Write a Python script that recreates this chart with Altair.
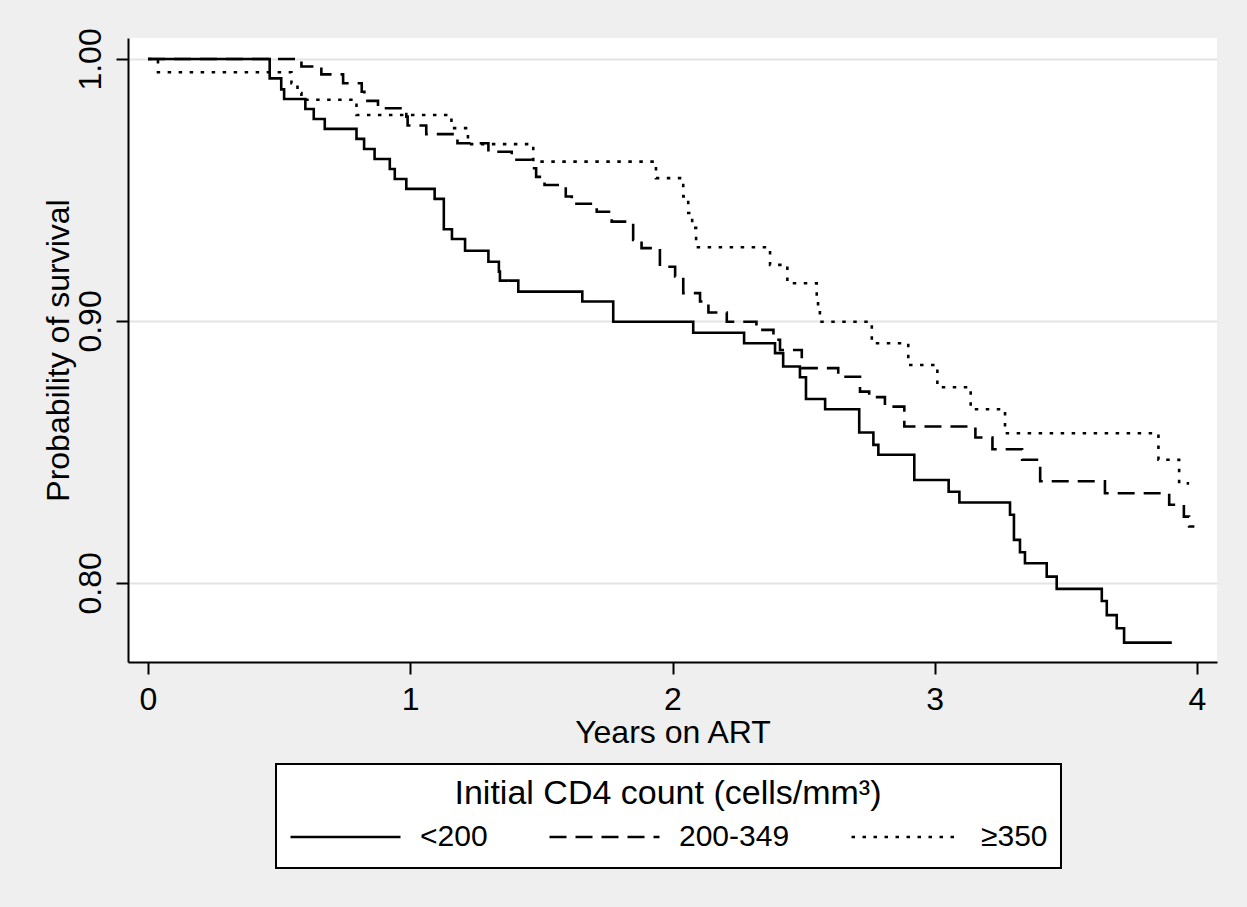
import altair as alt
import pandas as pd

groups = ["<200", "200-349", "≥350"]

# <200 (solid)
t_lt200 = [0, 0.464, 0.508, 0.519, 0.600, 0.632, 0.674, 0.795, 0.824, 0.864,
           0.922, 0.941, 0.985, 1.093, 1.128, 1.159, 1.209, 1.298, 1.338, 1.342,
           1.412, 1.656, 1.774, 2.079, 2.273, 2.391, 2.422, 2.486, 2.509, 2.582,
           2.712, 2.766, 2.785, 2.922, 3.053, 3.094, 3.287, 3.302, 3.325, 3.344,
           3.427, 3.465, 3.637, 3.656, 3.694, 3.722, 3.904]
s_lt200 = [1.0, 0.9926, 0.9884, 0.9847, 0.9809, 0.9771, 0.9733, 0.9695, 0.9656, 0.9618,
           0.958, 0.9542, 0.9504, 0.9466, 0.935, 0.9313, 0.9268, 0.9226, 0.9188, 0.9154,
           0.9112, 0.9074, 0.8997, 0.8955, 0.8915, 0.8877, 0.8826, 0.8785, 0.8702, 0.8663,
           0.8574, 0.8527, 0.8489, 0.8393, 0.8348, 0.8307, 0.826, 0.8164, 0.8117, 0.8075,
           0.8024, 0.7977, 0.7931, 0.7877, 0.7827, 0.7772, 0.7772]

# 200-349 (dashed)
t_mid = [0, 0.585, 0.661, 0.744, 0.815, 0.825, 0.877, 0.985, 0.99, 1.061,
         1.18, 1.298, 1.387, 1.463, 1.48, 1.512, 1.593, 1.616, 1.711, 1.768,
         1.85, 1.882, 1.952, 2.01, 2.041, 2.105, 2.137, 2.207, 2.32, 2.385,
         2.41, 2.493, 2.632, 2.715, 2.75, 2.81, 2.884, 3.155, 3.22, 3.333,
         3.402, 3.649, 3.894, 3.95, 3.97, 3.99]
s_mid = [1.0, 0.9971, 0.9941, 0.9907, 0.9875, 0.984, 0.9812, 0.978, 0.9746, 0.9713,
         0.9678, 0.9646, 0.9615, 0.9583, 0.955, 0.9519, 0.9475, 0.9447, 0.9417, 0.9379,
         0.9309, 0.9278, 0.9207, 0.917, 0.9106, 0.9074, 0.9032, 0.8997, 0.8966, 0.8928,
         0.8889, 0.882, 0.8787, 0.873, 0.8709, 0.8673, 0.8597, 0.8555, 0.851, 0.847,
         0.8388, 0.8342, 0.8298, 0.8253, 0.8215, 0.8215]

# >=350 (dotted)
t_hi = [0, 0.038, 0.547, 0.57, 0.585, 0.795, 1.157, 1.22, 1.469, 1.937,
        2.041, 2.06, 2.075, 2.09, 2.372, 2.438, 2.55, 2.555, 2.562, 2.76,
        2.899, 3.01, 3.137, 3.268, 3.853, 3.932, 3.97]
s_hi = [1.0, 0.9949, 0.9907, 0.987, 0.9844, 0.9786, 0.9736, 0.9675, 0.9608, 0.9545,
        0.9475, 0.9412, 0.9355, 0.9281, 0.9214, 0.9144, 0.909, 0.904, 0.8997, 0.8915,
        0.8832, 0.8747, 0.8663, 0.8571, 0.847, 0.838, 0.838]

x_ticks = [0, 1, 2, 3, 4]
y_ticks = [0.8, 0.9, 1.0]

rows = []
for g, ts, ss in [(groups[0], t_lt200, s_lt200), (groups[1], t_mid, s_mid), (groups[2], t_hi, s_hi)]:
    for i, (t, s) in enumerate(zip(ts, ss)):
        rows.append({"group": g, "t": t, "s": s, "i": i})
df = pd.DataFrame(rows)

FONT = "Liberation Sans"

chart = alt.Chart(df).mark_line(
    interpolate="step-after", strokeWidth=2.6, color="black"
).encode(
    x=alt.X("t:Q",
            scale=alt.Scale(domain=[-0.0763, 4.0763], nice=False, zero=False),
            axis=alt.Axis(values=x_ticks, title="Years on ART", grid=False,
                          tickSize=12, tickWidth=2, tickColor="black",
                          domainColor="black", domainWidth=2,
                          labelFont=FONT, labelFontSize=32, labelColor="black",
                          labelBaseline="alphabetic", labelPadding=35,
                          titleFont=FONT, titleFontSize=32, titleFontWeight="normal",
                          titleColor="black", titleBaseline="alphabetic", titleY=80)),
    y=alt.Y("s:Q",
            scale=alt.Scale(domain=[0.7698, 1.008], nice=False, zero=False),
            axis=alt.Axis(values=y_ticks, format=".2f", title="Probability of survival",
                          grid=True, gridColor="#e4e4e4", gridWidth=2,
                          tickSize=12, tickWidth=2, tickColor="black",
                          domainColor="black", domainWidth=2,
                          labelFont=FONT, labelFontSize=32, labelColor="black",
                          labelAngle=270, labelAlign="center", labelBaseline="alphabetic",
                          labelPadding=16,
                          titleFont=FONT, titleFontSize=32, titleFontWeight="normal",
                          titleColor="black", titleAngle=270, titleAlign="center",
                          titleBaseline="middle", titleX=-70, titleY=312)),
    strokeDash=alt.StrokeDash(
        "group:N",
        scale=alt.Scale(domain=groups, range=[[1, 0], [17, 9], [3.5, 7.5]]),
        legend=alt.Legend(title="Initial CD4 count (cells/mm³)", orient="none",
                          legendX=148, legendY=726, direction="horizontal",
                          titleAnchor="middle")),
    order=alt.Order("i:Q"),
).properties(
    width=1089, height=624,
    autosize=alt.AutoSizeParams(type="none"),
    padding={"left": 128, "top": 38, "right": 30, "bottom": 245},
    background="#efefef",
).configure_view(
    fill="white", strokeWidth=0
).configure_legend(
    fillColor="white", strokeColor="black", strokeWidth=2, padding=13,
    symbolType="stroke", symbolSize=12100, symbolStrokeWidth=2.6,
    symbolStrokeColor="black", labelFont=FONT, labelFontSize=30, labelColor="black",
    titleFont=FONT, titleFontSize=34, titleFontWeight="normal", titleColor="black",
    labelOffset=18, columnPadding=60, clipHeight=36, titlePadding=8,
    gridAlign="each", titleLimit=1000, labelLimit=500
)

chart.save("out.html", embed_options={"renderer": "svg", "actions": False})
